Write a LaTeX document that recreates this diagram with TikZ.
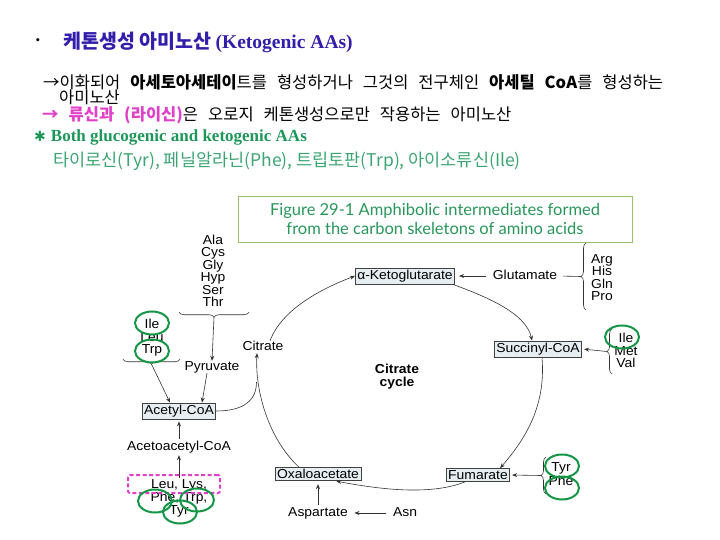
\documentclass[tikz,border=0pt]{standalone}
\usepackage{fontspec}
\setmainfont{Liberation Serif}
\setsansfont{Liberation Sans}[FakeStretch=1.07]
\newfontfamily\kor{Noto Sans CJK KR}
\newfontfamily\capfont{Lato}
\newfontfamily\symfont{DejaVu Sans}
\usepackage{xcolor}
\usetikzlibrary{positioning, arrows.meta, decorations.pathreplacing, shapes.geometric, calc}
\definecolor{titleblue}{RGB}{50,30,170}
\definecolor{lysmagenta}{RGB}{224,64,200}
\definecolor{bothgreen}{RGB}{30,150,90}
\definecolor{aagreen}{RGB}{60,165,115}
\definecolor{capgreen}{RGB}{40,150,90}
\definecolor{capframe}{RGB}{150,195,100}
\definecolor{ringgreen}{RGB}{20,150,70}
\definecolor{boxfill}{RGB}{230,238,242}
\newcommand{\widesp}{\setlength{\spaceskip}{10pt}}

\begin{document}
\begin{tikzpicture}[
		x=1pt, y=-1pt,
		line/.style={draw=black!80, line width=0.6pt},
		arr/.style={line, -{Stealth[length=5pt, width=4pt]}},
		met/.style={draw=black!75, fill=boxfill, inner sep=2pt, line width=0.7pt, font=\sffamily\fontsize{13}{14}\selectfont},
		acid/.style={inner sep=0.5pt, text height=9pt, text depth=2pt, font=\sffamily\fontsize{13}{13}\selectfont},
		brc/.style={line, decorate, decoration={brace, amplitude=5pt}},
		ring/.style={ellipse, draw=ringgreen, line width=2pt, minimum width=34pt, minimum height=23pt, inner sep=0pt},
		kline/.style={anchor=west, inner sep=0pt, font=\kor\fontsize{16.5}{18}\selectfont\widesp},
		>=Stealth
		]
		\useasboundingbox (0,0) rectangle (720,540);
		
		% heading text
		\node[inner sep=0pt, font=\fontsize{13}{14}\selectfont] (bul) at (38,42) {•};
		\node[kline, font=\kor\bfseries\fontsize{19.5}{20}\selectfont, text=titleblue] (title) at (63,42) {케톤생성 아미노산 {\rmfamily (Ketogenic AAs)}};
		\node[kline] (l1) at (43,82) {→이화되어 \textbf{아세토아세테이}트를 형성하거나 그것의 전구체인 \textbf{아세틸 CoA}를 형성하는};
		\node[kline] (l2) at (59,97) {아미노산};
		\node[kline] (l3) at (42,115) {{\color{lysmagenta}\textbf{→ 류신과 (라이신)}}은 오로지 케톤생성으로만 작용하는 아미노산};
		\node[kline, font=\bfseries\fontsize{17}{18}\selectfont, text=bothgreen] (l4) at (34,137) {{\symfont\fontsize{14}{14}\selectfont ✱}\hspace{5pt}Both glucogenic and ketogenic AAs};
		\node[kline, font=\kor\fontsize{17.5}{18}\selectfont, text=aagreen] (l5) at (53,161) {타이로신(Tyr), 페닐알라닌(Phe), 트립토판(Trp), 아이소류신(Ile)};
		
		% caption
		\node[draw=capframe, line width=0.8pt, minimum width=394pt, minimum height=46pt, align=center, text=capgreen,
		font=\capfont\fontsize{16.5}{19}\selectfont] (cap) at (435,219) {Figure 29-1 Amphibolic intermediates formed\\from the carbon skeletons of amino acids};
		
		% citrate cycle
		\node[met] (akg) at (405,276) {α-Ketoglutarate};
		\node[met] (suc) at (538,349) {Succinyl-CoA};
		\node[met] (fum) at (478,475) {Fumarate};
		\node[met] (oaa) at (318,474) {Oxaloacetate};
		\node[acid] (cit) at (263,347) {Citrate};
		\node[align=center, inner sep=0.5pt, font=\sffamily\bfseries\fontsize{13}{13}\selectfont] (cyc) at (397,377) {Citrate\\cycle};
		\node[acid] (glu) at (525,276) {Glutamate};
		\node[acid] (asp) at (318,513) {Aspartate};
		\node[acid] (asn) at (405,513) {Asn};
		\node[acid] (pyr) at (212,367) {Pyruvate};
		\node[met] (acc) at (179,411) {Acetyl-CoA};
		\node[acid] (aac) at (179,447) {Acetoacetyl-CoA};
		\node[align=center, inner sep=0.5pt, font=\sffamily\fontsize{13}{13}\selectfont] (keto) at (179,498) {Leu, Lys,\\Phe, Trp,\\Tyr};
		
		% amino acid stacks
		\foreach \acid [count=\i from 0] in {Ala,Cys,Gly,Hyp,Ser,Thr}
		\node[acid] (g\i) at (213, 241+12.4*\i) {\acid};
		\foreach \acid [count=\i from 0] in {Ile,Leu,Trp}
		\node[acid] (p\i) at (152, 325+12.5*\i) {\acid};
		\foreach \acid [count=\i from 0] in {Arg,His,Gln,Pro}
		\node[acid] (q\i) at (602, 260+12.3*\i) {\acid};
		\foreach \acid [count=\i from 0] in {Ile,Met,Val}
		\node[acid] (s\i) at (626, 339+12.5*\i) {\acid};
		\foreach \acid [count=\i from 0] in {Tyr,Phe}
		\node[acid] (t\i) at (561, 468+14*\i) {\acid};
		
		% braces
		\coordinate (gb1) at ($(g5.south)+(36,3)$);
		\coordinate (gb2) at ($(g5.south)+(-34,3)$);
		\draw[brc] (gb1) -- (gb2);
		\coordinate (pb1) at ($(p2.south)+(28,3)$);
		\coordinate (pb2) at ($(p2.south)+(-29,3)$);
		\draw[brc] (pb1) -- (pb2);
		\coordinate (qb1) at (586,310);
		\coordinate (qb2) at (586,243);
		\draw[brc] (qb1) -- (qb2);
		\coordinate (sb1) at (612,374);
		\coordinate (sb2) at (612,329);
		\draw[brc] (sb1) -- (sb2);
		\coordinate (tb1) at (546,494);
		\coordinate (tb2) at (546,457);
		\draw[brc] (tb1) -- (tb2);
		
		% feeders
		\draw[arr] ($(gb1)!0.5!(gb2)+(0,5)$) -- (pyr.north);
		\draw[arr] ($(pb1)!0.5!(pb2)+(0,5)$) -- ([xshift=-9pt]acc.north);
		\draw[arr] ([xshift=-5pt]pyr.south) -- ([xshift=23pt]acc.north);
		\draw[line, shorten <=5pt] (glu.east) -- ($(qb1)!0.5!(qb2)+(-5,0)$);
		\draw[arr, shorten <=6pt, shorten >=4pt] (glu.west) -- (akg.east);
		\draw[arr, shorten >=2pt] ($(sb1)!0.5!(sb2)+(-5,0)$) -- (suc.east);
		\draw[arr, shorten >=2pt] ($(tb1)!0.5!(tb2)+(-5,0)$) -- (fum.east);
		\draw[arr, shorten <=6pt, shorten >=6pt] (asn.west) -- (asp.east);
		\draw[arr, shorten <=2pt, shorten >=3pt] (asp.north) -- (oaa.south);
		\draw[arr, shorten <=2pt, shorten >=2pt] (aac.north) -- (acc.south);
		\draw[arr, shorten >=2pt] (keto.north) -- (aac.south);
		
		% cycle arcs
		\draw[arr] ([xshift=7pt]cit.north) .. controls +(12,-32) and +(-32,12) .. (akg.west);
		\draw[arr] ([xshift=-2pt]akg.south east) .. controls +(32,12) and +(-6,-28) .. ([xshift=-6pt]suc.north);
		\draw[arr] ([xshift=4pt]suc.south) .. controls +(4,48) and +(26,-30) .. ([xshift=-10pt]fum.north east);
		\draw[arr] ([xshift=19pt]fum.south west) .. controls +(-35,14) and +(42,8) .. ([xshift=-25pt]oaa.south east);
		\draw[arr] ([xshift=24pt]oaa.north west) .. controls +(-30,-28) and +(-2,38) .. ([xshift=-6pt]cit.south);
		\coordinate (join) at (256.5,382);
		\draw[line] (acc.east) .. controls +(28,0) and +(0,18) .. (join);
		
		% highlights
		\node[draw=lysmagenta, line width=2pt, dashed, dash pattern=on 4pt off 2.5pt, rounded corners=2pt,
		minimum width=92pt, minimum height=18pt] (lysbox) at (174,484) {};
		\node[ring] (r1) at (152,323) {};
		\node[ring] (r2) at (152,351) {};
		\node[ring] (r3) at (622,337) {};
		\node[ring] (r4) at (562,466) {};
		\node[ring] (r5) at (562,488) {};
		\node[ring] (r6) at (155,501) {};
		\node[ring] (r7) at (197,500) {};
		\node[ring] (r8) at (180,512) {};
		\end{tikzpicture}
\end{document}
